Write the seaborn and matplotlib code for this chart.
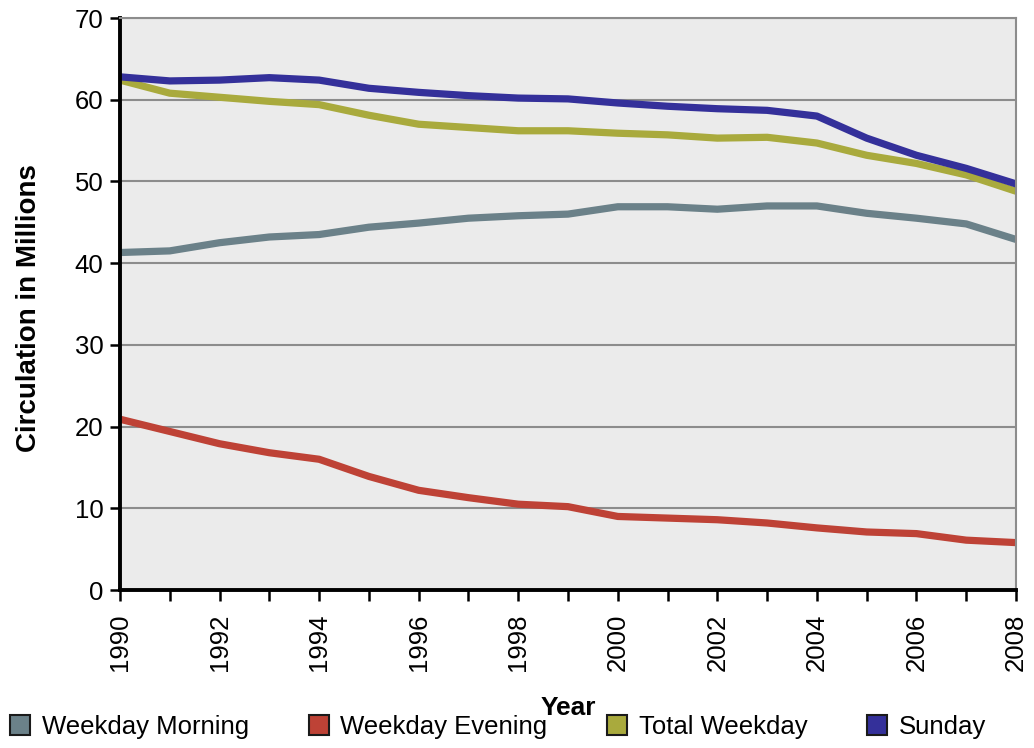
import matplotlib
matplotlib.use("Agg")
import matplotlib.pyplot as plt
from matplotlib.lines import Line2D
from matplotlib.ticker import MultipleLocator
import pandas as pd
import seaborn as sns

# Daily newspaper circulation, millions of copies
years = list(range(1990, 2009))
weekday_morning = [41.3, 41.5, 42.5, 43.2, 43.5, 44.4, 44.9, 45.5, 45.8, 46.0,
                   46.9, 46.9, 46.6, 47.0, 47.0, 46.1, 45.5, 44.8, 42.9]
weekday_evening = [20.9, 19.4, 17.9, 16.8, 16.0, 13.9, 12.2, 11.3, 10.5, 10.2,
                   9.0, 8.8, 8.6, 8.2, 7.6, 7.1, 6.9, 6.1, 5.8]
total_weekday = [62.4, 60.8, 60.3, 59.8, 59.4, 58.1, 57.0, 56.6, 56.2, 56.2,
                 55.9, 55.7, 55.3, 55.4, 54.7, 53.2, 52.2, 50.8, 48.8]
sunday = [62.8, 62.3, 62.4, 62.7, 62.4, 61.4, 60.9, 60.5, 60.2, 60.1,
          59.6, 59.2, 58.9, 58.7, 58.0, 55.3, 53.2, 51.6, 49.7]

series_names = ["Weekday Morning", "Weekday Evening", "Total Weekday", "Sunday"]
series_colors = ["#6b8189", "#be4236", "#a9aa3d", "#34309a"]

frames = []
for name, values in zip(series_names,
                        [weekday_morning, weekday_evening, total_weekday, sunday]):
    frames.append(pd.DataFrame({"Year": years, "Circulation": values, "Series": name}))
df = pd.concat(frames, ignore_index=True)

sns.set_theme(style="whitegrid")
plt.rcParams["font.family"] = ["Liberation Sans", "DejaVu Sans"]
plt.rcParams["text.color"] = "black"
plt.rcParams["axes.labelcolor"] = "black"
plt.rcParams["xtick.color"] = "black"
plt.rcParams["ytick.color"] = "black"

fig = plt.figure(figsize=(10.34, 7.48), dpi=100)
ax = fig.add_axes([120 / 1034, 1 - 590 / 748, 896 / 1034, 572 / 748])
ax.set_facecolor("#ebebeb")

sns.lineplot(data=df, x="Year", y="Circulation", hue="Series",
             hue_order=series_names, palette=series_colors,
             linewidth=5.2, legend=False, ax=ax,
             solid_joinstyle="round", solid_capstyle="butt")

ax.set_xlim(1990, 2008)
ax.set_ylim(0, 70)
ax.xaxis.set_major_locator(MultipleLocator(2))
ax.xaxis.set_minor_locator(MultipleLocator(1))
ax.yaxis.set_major_locator(MultipleLocator(10))

ax.grid(False, axis="x")
ax.grid(True, axis="y", color="#8c8c8c", linewidth=1.5)
ax.set_axisbelow(True)

for side in ["left", "bottom"]:
    ax.spines[side].set_color("black")
    ax.spines[side].set_linewidth(2.8)
for side in ["top", "right"]:
    ax.spines[side].set_color("#8c8c8c")
    ax.spines[side].set_linewidth(1.5)

ax.tick_params(axis="y", which="major", direction="out", length=7, width=1.8,
               color="black", labelcolor="black", labelsize=18.5, pad=5, left=True)
ax.tick_params(axis="x", which="both", direction="out", length=8, width=1.8,
               color="black", bottom=True)
ax.tick_params(axis="x", which="major", labelsize=18.5, labelcolor="black",
               pad=9, labelrotation=90)

ax.set_ylabel("Circulation in Millions", fontsize=20, fontweight="bold", color="black")
ax.yaxis.set_label_coords(-0.087, 0.493)
ax.set_xlabel("Year", fontsize=19, fontweight="bold", color="black")
ax.xaxis.label.set_va("center")
ax.xaxis.set_label_coords(0.5, -0.206)

handles = [Line2D([], [], marker="s", linestyle="none", markersize=14,
                  markerfacecolor=c, markeredgecolor="#1a1a1a", markeredgewidth=1.5)
           for c in series_colors]
fig.legend(handles, series_names, loc="center left",
           bbox_to_anchor=(10 / 1034, 1 - 727 / 748), bbox_transform=fig.transFigure,
           ncol=4, frameon=False, fontsize=18.5, handlelength=0.8,
           handletextpad=0.45, columnspacing=2.3, borderpad=0, borderaxespad=0,
           labelcolor="black")

fig.savefig("out.png", dpi=100, facecolor="white")
